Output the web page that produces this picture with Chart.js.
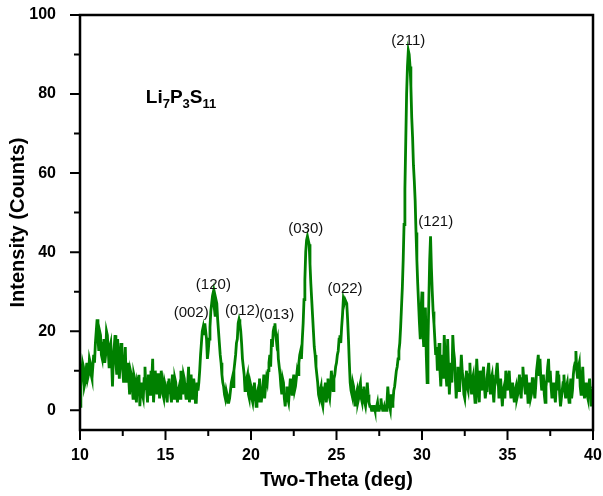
<!DOCTYPE html>
<html>
<head>
<meta charset="utf-8">
<script src="https://cdn.jsdelivr.net/npm/chart.js@4.4.1/dist/chart.umd.min.js"></script>
<style>
  html, body { margin: 0; padding: 0; background: #fff; }
  #wrap { width: 603px; height: 496px; }
</style>
</head>
<body>
<div id="wrap"><canvas id="xrd-chart"></canvas></div>
<script>
// 2-theta grid of the scan (deg)
const startAngle = 10;
const angleStep = 0.05;

// intensity, one value per 0.05 deg
const counts10to15 = [1, 6, 9, 12, 11, 6, 7, 10, 12, 8, 9, 13, 12, 9, 8, 11, 14, 12, 17, 20, 23, 18, 15, 20, 19, 14, 13, 17, 18, 12, 14, 20, 19, 15, 11, 16, 17, 12, 6, 13, 16, 19, 12, 9, 18, 14, 8, 12, 17, 13, 10, 7, 13, 16, 7, 10, 12, 8, 4, 10, 9, 6, 3, 9, 8, 4, 2, 7, 6, 9, 1, 5, 7, 4, 3, 8, 11, 6, 5, 2, 9, 7, 4, 10, 8, 13, 2, 6, 10, 7, 4, 9, 9, 3, 5, 10, 8, 4, 3, 7];
const counts15to20 = [6, 4, 2, 7, 8, 5, 4, 2, 9, 6, 3, 8, 7, 4, 2, 5, 6, 3, 10, 7, 4, 9, 8, 5, 3, 6, 7, 11, 2, 5, 9, 3, 4, 8, 6, 2, 2, 7, 5, 7, 10, 14, 17, 20, 21, 19, 22, 20, 18, 13, 15, 18, 21, 25, 27, 29, 30, 26, 24, 28, 27, 23, 20, 17, 14, 12, 9, 7, 6, 4, 3, 5, 4, 2, 2, 3, 5, 7, 8, 6, 10, 12, 14, 17, 18, 22, 23, 22, 20, 17, 13, 11, 9, 5, 6, 8, 9, 4, 3, 7];
const counts20to25 = [6, 3, 2, 5, 7, 4, 1, 4, 5, 2, 8, 5, 2, 4, 6, 9, 3, 6, 8, 7, 10, 12, 14, 11, 18, 16, 20, 21, 22, 19, 17, 18, 13, 11, 9, 6, 4, 8, 7, 3, 1, 4, 6, 3, 2, 5, 8, 6, 4, 7, 9, 5, 6, 8, 10, 9, 12, 14, 15, 13, 18, 22, 28, 33, 40, 43, 44, 43, 42, 37, 32, 28, 24, 20, 16, 14, 11, 9, 7, 4, 3, 5, 6, 2, 1, 4, 5, 7, 2, 4, 8, 4, 3, 6, 10, 7, 5, 8, 9, 11];
const counts25to30 = [12, 14, 15, 18, 19, 17, 21, 24, 28, 27, 28, 28, 27, 23, 18, 12, 7, 5, 4, 7, 6, 3, 1, 4, 5, 2, 3, 6, 7, 3, 2, 5, 6, 2, 1, 3, 7, 4, 2, 1, 1, 0, 0, 1, 1, 0, 0, 1, 2, 0, 0, 1, 3, 1, 0, 0, 1, 0, 0, 2, 6, 3, 1, 0, 4, 1, 2, 5, 6, 8, 10, 11, 13, 15, 17, 21, 26, 31, 38, 47, 56, 68, 80, 87, 91, 90, 87, 82, 74, 69, 62, 58, 53, 45, 38, 32, 27, 22, 18, 26];
const counts30to35 = [30, 20, 16, 24, 26, 14, 7, 17, 28, 38, 44, 36, 30, 25, 22, 18, 14, 16, 10, 13, 17, 10, 6, 12, 14, 8, 19, 14, 9, 6, 18, 11, 4, 9, 12, 7, 19, 15, 13, 8, 3, 7, 11, 5, 5, 9, 14, 10, 8, 4, 3, 7, 10, 6, 5, 9, 12, 7, 4, 8, 9, 5, 2, 6, 13, 9, 4, 2, 10, 7, 5, 9, 11, 6, 3, 5, 8, 10, 12, 7, 4, 8, 9, 5, 2, 6, 7, 10, 12, 8, 3, 6, 8, 4, 1, 5, 6, 3, 10, 7];
const counts35to40 = [5, 8, 10, 6, 3, 5, 7, 4, 2, 5, 6, 3, 4, 7, 9, 5, 3, 8, 11, 8, 6, 4, 9, 6, 2, 5, 7, 3, 4, 8, 8, 5, 3, 6, 10, 12, 14, 9, 13, 8, 5, 7, 9, 4, 2, 6, 8, 11, 13, 7, 10, 6, 3, 5, 7, 4, 2, 6, 10, 5, 9, 4, 1, 3, 5, 7, 9, 5, 3, 6, 7, 4, 2, 5, 8, 3, 5, 9, 11, 12, 15, 10, 8, 11, 12, 6, 4, 8, 11, 6, 3, 5, 7, 4, 3, 6, 8, 4, 1, 3, 6];

// axis ticks
const xMajorTicks = [10, 15, 20, 25, 30, 35, 40];
const xMinorTicks = [12.5, 17.5, 22.5, 27.5, 32.5, 37.5];
const yMajorTicks = [0, 20, 40, 60, 80, 100];
const yMinorTicks = [10, 30, 50, 70, 90];

// peak (hkl) labels, placed in data units
const peakLabels = ["(002)", "(120)", "(012)", "(013)", "(030)", "(022)", "(211)", "(121)"];
const peakLabelX = [16.5, 17.8, 19.5, 21.5, 23.2, 25.5, 29.2, 30.8];
const peakLabelY = [24.7, 31.8, 25.1, 24.2, 45.9, 30.8, 93.5, 47.6];

// sample name, subscripts flagged
const sampleParts = ["Li", "7", "P", "3", "S", "11"];
const sampleSub = [false, true, false, true, false, true];
const sampleX = 13.85;
const sampleY = 77.8;

const FONT = '"Liberation Sans", Arial, sans-serif';

const allCounts = [].concat(counts10to15, counts15to20, counts20to25, counts25to30, counts30to35, counts35to40);
const points = allCounts.map((c, i) => ({ x: +(startAngle + i * angleStep).toFixed(2), y: c }));

const frameAndTicks = {
  id: "frameAndTicks",
  afterDatasetsDraw(chart) {
    const { ctx, chartArea: a, scales: { x, y } } = chart;
    ctx.save();
    ctx.strokeStyle = "#000";
    ctx.lineWidth = 2.5;
    ctx.strokeRect(a.left, a.top, a.right - a.left, a.bottom - a.top);

    ctx.lineWidth = 2;
    ctx.beginPath();
    xMajorTicks.forEach(v => {
      const px = x.getPixelForValue(v);
      ctx.moveTo(px, a.bottom); ctx.lineTo(px, a.bottom + 10);
    });
    xMinorTicks.forEach(v => {
      const px = x.getPixelForValue(v);
      ctx.moveTo(px, a.bottom); ctx.lineTo(px, a.bottom + 6);
    });
    yMajorTicks.forEach(v => {
      const py = y.getPixelForValue(v);
      ctx.moveTo(a.left, py); ctx.lineTo(a.left - 10, py);
    });
    yMinorTicks.forEach(v => {
      const py = y.getPixelForValue(v);
      ctx.moveTo(a.left, py); ctx.lineTo(a.left - 6, py);
    });
    ctx.stroke();

    ctx.fillStyle = "#111";
    ctx.font = "15px " + FONT;
    ctx.textAlign = "center";
    ctx.textBaseline = "middle";
    peakLabels.forEach((t, i) => {
      ctx.fillText(t, x.getPixelForValue(peakLabelX[i]), y.getPixelForValue(peakLabelY[i]));
    });

    ctx.fillStyle = "#000";
    ctx.textAlign = "left";
    ctx.textBaseline = "alphabetic";
    let px = x.getPixelForValue(sampleX);
    const py = y.getPixelForValue(sampleY);
    sampleParts.forEach((t, i) => {
      ctx.font = (sampleSub[i] ? "bold 13px " : "bold 19px ") + FONT;
      ctx.fillText(t, px, sampleSub[i] ? py + 5 : py);
      px += ctx.measureText(t).width;
    });
    ctx.restore();
  }
};

new Chart(document.getElementById("xrd-chart"), {
  type: "line",
  data: {
    datasets: [{
      data: points,
      borderColor: "#008000",
      borderWidth: 2.8,
      pointRadius: 0,
      tension: 0,
      fill: false
    }]
  },
  options: {
    responsive: true,
    maintainAspectRatio: false,
    animation: false,
    layout: { padding: { top: 15, right: 10, left: 0, bottom: 0 } },
    plugins: { legend: { display: false }, tooltip: { enabled: false } },
    scales: {
      x: {
        type: "linear",
        min: 10,
        max: 40,
        grid: { display: false },
        border: { display: false },
        afterBuildTicks: s => { s.ticks = xMajorTicks.map(value => ({ value })); },
        afterFit: s => { s.height = 66; s.paddingLeft = 0; s.paddingRight = 0; },
        ticks: { color: "#000", padding: 8, font: { family: FONT, size: 16, weight: "bold" } },
        title: { display: true, text: "Two-Theta (deg)", color: "#000", padding: { bottom: 4 }, font: { family: FONT, size: 20, weight: "bold" } }
      },
      y: {
        min: -5,
        max: 100,
        grid: { display: false },
        border: { display: false },
        afterBuildTicks: s => { s.ticks = yMajorTicks.map(value => ({ value })); },
        afterFit: s => { s.width = 80; s.paddingTop = 0; s.paddingBottom = 0; },
        ticks: { color: "#000", padding: 16, font: { family: FONT, size: 16, weight: "bold" } },
        title: { display: true, text: "Intensity (Counts)", color: "#000", padding: { top: 6 }, font: { family: FONT, size: 20, weight: "bold" } }
      }
    }
  },
  plugins: [frameAndTicks]
});
</script>
</body>
</html>
